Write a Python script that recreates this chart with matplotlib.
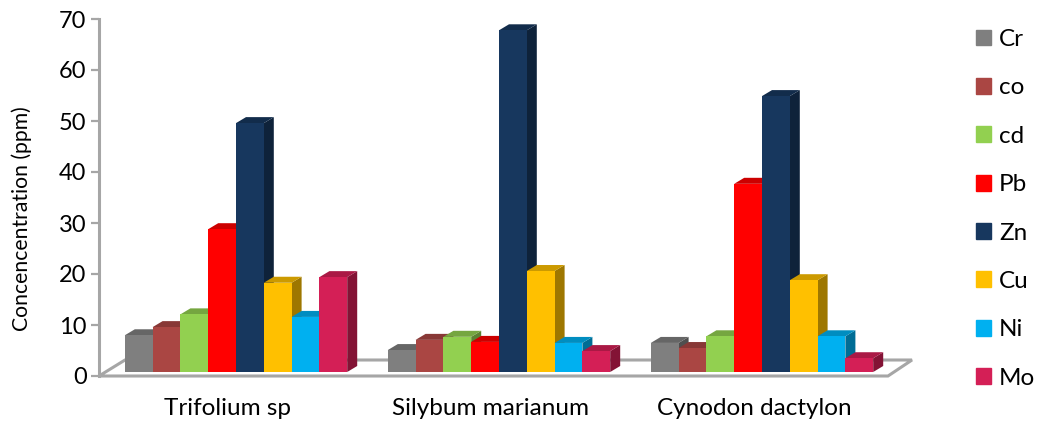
import matplotlib
matplotlib.use("Agg")
import matplotlib.pyplot as plt
from matplotlib.patches import Patch
from matplotlib.colors import to_rgb

plt.rcParams['font.family'] = ['Lato', 'DejaVu Sans']

plantas = ['Trifolium sp', 'Silybum marianum', 'Cynodon dactylon']
metales = ['Cr', 'co', 'cd', 'Pb', 'Zn', 'Cu', 'Ni', 'Mo']
colores = ['#7F7F7F', '#AA4643', '#92D050', '#FF0000', '#17375E', '#FFC000', '#00B0F0', '#D41F56']

trifolium = [7.2, 8.8, 11.3, 28.0, 48.8, 17.5, 10.8, 18.6]
silybum = [4.3, 6.3, 6.9, 5.9, 67.0, 19.8, 5.7, 4.1]
cynodon = [5.7, 4.7, 7.0, 36.9, 54.1, 18.0, 7.0, 2.7]
valores = [trifolium, silybum, cynodon]

W, H = 1037, 426
# posicion del eje en pixeles
x0, x1, y0, y1 = 99, 912, 376, 19
px_x = 263.0                # pixeles por categoria
px_y = (y0 - y1) / 70.0     # pixeles por ppm
centro = 236

fig = plt.figure(figsize=(W / 100, H / 100), dpi=100)
ax = fig.add_axes([x0 / W, 1 - y0 / H, (x1 - x0) / W, (y0 - y1) / H])
ax.set_xlim((x0 - centro) / px_x, (x1 - centro) / px_x)
ax.set_ylim(0, 70)

ancho = 27.8 / px_x
dx = 10 / px_x
dy = 6 / px_y
base = 4 / px_y     # las barras empiezan un poco por encima del cero
gris = '#A6A6A6'


def oscurece(color, f):
    return tuple(c * f for c in to_rgb(color))


# suelo 3D
xf0 = ax.get_xlim()[0]
xf1 = xf0 + 789 / px_x
ax.fill([xf0, xf0 + 26 / px_x, xf1 + 24 / px_x, xf1], [0, 16 / px_y, 16 / px_y, 0],
        facecolor='white', edgecolor=gris, lw=2.2, clip_on=False, zorder=1, joinstyle='miter')

z = 2
for i, fila in enumerate(valores):
    for j, v in enumerate(fila):
        x = i + (j - 4) * ancho
        top = v + base
        c = colores[j]
        ax.fill([x + ancho, x + ancho + dx, x + ancho + dx, x + ancho],
                [base, base + dy, top + dy, top], color=oscurece(c, 0.62), lw=0, zorder=z, clip_on=False)
        ax.fill([x, x + dx, x + ancho + dx, x + ancho],
                [top, top + dy, top + dy, top], color=oscurece(c, 0.8), lw=0, zorder=z, clip_on=False)
        ax.bar(x, v, ancho, bottom=base, align='edge', color=c, lw=0, zorder=z + 1)
        z += 2

for s in ['top', 'right', 'bottom']:
    ax.spines[s].set_visible(False)
ax.spines['left'].set_color(gris)
ax.spines['left'].set_linewidth(2.2)
ax.spines['left'].set_zorder(z + 1)
ax.set_yticks(range(0, 71, 10))
ax.tick_params(axis='y', color=gris, width=1.6, length=6, labelsize=17, pad=3)
ax.set_ylabel('Concencentration (ppm)', fontsize=15.2)
ax.yaxis.set_label_coords(-0.083, 0.44)
ax.set_xticks([i - 8 / px_x for i in range(3)])
ax.set_xticklabels(plantas, fontsize=17.5)
ax.tick_params(axis='x', length=0, pad=16)

handles = [Patch(color=c, label=m) for c, m in zip(colores, metales)]
fig.legend(handles=handles, loc='upper left', bbox_to_anchor=(964 / W, 1 - 17 / H), frameon=False,
           fontsize=17.5, handlelength=0.62, handleheight=0.62, handletextpad=0.33,
           labelspacing=1.125, borderaxespad=0, borderpad=0.5)

fig.savefig('out.png', dpi=100)
